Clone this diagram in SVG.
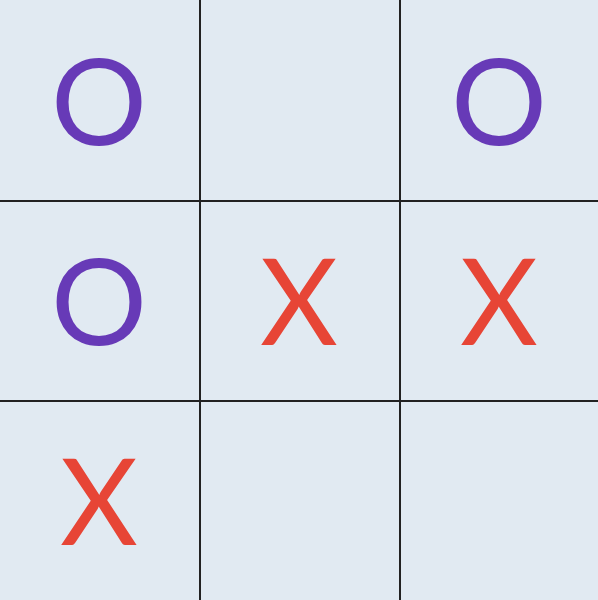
<svg xmlns="http://www.w3.org/2000/svg" width="598" height="600" viewBox="0 0 598 600">
<style>
.o{fill:#673ab7}
.x{fill:#e74536}
text{font-family:Lato,sans-serif;font-size:120px;text-anchor:middle}
.grid line{stroke:#222;stroke-width:2}
</style>
<rect width="598" height="600" fill="#e1eaf2"/>
<g id="cells">
<g id="c00"><text class="o" x="99" y="145">O</text></g>
<g id="c02"><text class="o" x="499" y="145">O</text></g>
<g id="c10"><text class="o" x="99" y="345">O</text></g>
<g id="c11"><text class="x" x="299" y="345">X</text></g>
<g id="c12"><text class="x" x="499" y="345">X</text></g>
<g id="c20"><text class="x" x="99" y="545">X</text></g>
</g>
<g class="grid" id="connectors">
<line x1="200" y1="0" x2="200" y2="600"/>
<line x1="400" y1="0" x2="400" y2="600"/>
<line x1="0" y1="201" x2="598" y2="201"/>
<line x1="0" y1="401" x2="598" y2="401"/>
</g>
</svg>
